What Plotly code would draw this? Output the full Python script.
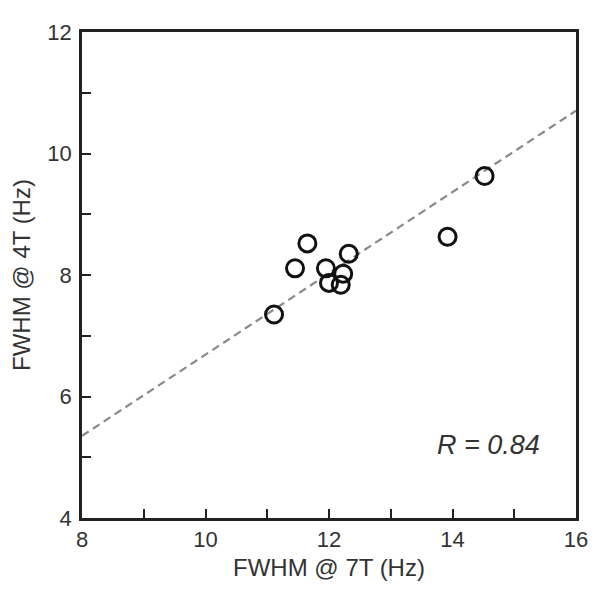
import plotly.graph_objects as go

# Data
fwhm_7t = [11.11, 11.45, 11.65, 11.95, 12.0, 12.23, 12.19, 12.32, 13.92, 14.52]
fwhm_4t = [7.35, 8.11, 8.52, 8.11, 7.87, 8.02, 7.84, 8.35, 8.63, 9.63]
fit_x = [8, 16]
fit_slope = 0.669
fit_intercept = 0.0
fit_y = [fit_slope * v + fit_intercept for v in fit_x]
x_ticks = [8, 9, 10, 11, 12, 13, 14, 15, 16]
x_ticklabels = ["8", "", "10", "", "12", "", "14", "", "16"]
y_ticks = [4, 5, 6, 7, 8, 9, 10, 11, 12]
y_ticklabels = ["4", "", "6", "", "8", "", "10", "", "12"]

FONT = "Liberation Sans, Arial"

fig = go.Figure()
fig.add_trace(go.Scatter(
    x=fit_x, y=fit_y, mode="lines",
    line=dict(color="#8a8a8a", width=2.2, dash="8px,5px"),
    hoverinfo="skip", showlegend=False))
fig.add_trace(go.Scatter(
    x=fwhm_7t, y=fwhm_4t, mode="markers",
    marker=dict(symbol="circle-open", size=17, color="#111111",
                line=dict(width=3, color="#111111")),
    showlegend=False))

fig.add_annotation(x=15.45, y=5.2, xref="x", yref="y", text="<i>R = 0.84</i>",
                   showarrow=False, xanchor="right", yanchor="middle",
                   font=dict(size=27, color="#333333", family=FONT))

axis_common = dict(showgrid=False, zeroline=False, showline=True, linewidth=2.6,
                   linecolor="#222222", mirror=True, ticks="inside", ticklen=9,
                   tickwidth=2.4, tickcolor="#222222",
                   tickfont=dict(size=22, color="#333333", family=FONT))

fig.update_layout(
    width=592, height=589,
    margin=dict(l=72, r=21, t=15, b=79),
    paper_bgcolor="white", plot_bgcolor="white",
    font=dict(family=FONT, color="#333333"),
    xaxis=dict(range=[8, 16], tickvals=x_ticks, ticktext=x_ticklabels,
               title=dict(text="FWHM @ 7T (Hz)", font=dict(size=24, color="#333333"), standoff=8),
               **axis_common),
    yaxis=dict(range=[4, 12], tickvals=y_ticks, ticktext=y_ticklabels,
               title=dict(text="FWHM @ 4T (Hz)", font=dict(size=24, color="#333333"), standoff=11),
               ticklabelstandoff=3,
               **axis_common),
)

fig.write_html("out.html")
